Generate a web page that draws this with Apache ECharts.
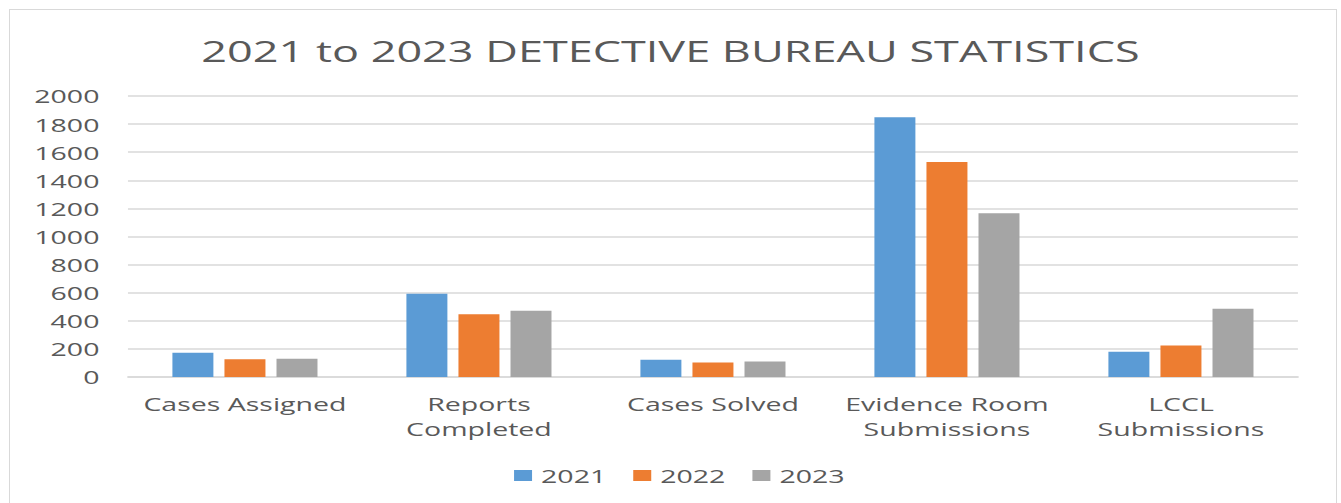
<!DOCTYPE html>
<html>
<head>
<meta charset="utf-8">
<script src="https://cdn.jsdelivr.net/npm/echarts@6/dist/echarts.min.js"></script>
<style>
  html, body { margin: 0; padding: 0; background: #ffffff; overflow: hidden; }
  #frame { position: absolute; left: 9px; top: 9px; width: 1328px; height: 600px; border: 1px solid #d9d9d9; box-sizing: border-box; }
  #chart { position: absolute; left: 0; top: 0; width: 894px; height: 503px; transform: scaleX(1.5); transform-origin: 0 0; }
</style>
</head>
<body>
<div id="frame"></div>
<div id="chart"></div>
<script>
const titleText = '2021 to 2023 DETECTIVE BUREAU STATISTICS';
const categories = ['Cases Assigned', 'Reports\nCompleted', 'Cases Solved', 'Evidence Room\nSubmissions', 'LCCL\nSubmissions'];
const seriesNames = ['2021', '2022', '2023'];
const values2021 = [173, 593, 123, 1848, 180];
const values2022 = [126, 446, 104, 1530, 225];
const values2023 = [130, 472, 111, 1165, 486];
const colors = ['#5B9BD5', '#ED7D31', '#A5A5A5'];

const FONT = '"Open Sans", sans-serif';
const TXT = '#595959';

const chart = echarts.init(document.getElementById('chart'), null, { renderer: 'svg' });
const data = [values2021, values2022, values2023];

chart.setOption({
  animation: false,
  backgroundColor: 'transparent',
  color: colors,
  title: {
    text: titleText,
    left: 'center',
    top: 30,
    textStyle: { fontFamily: FONT, fontSize: 30, fontWeight: 'normal', color: TXT }
  },
  legend: {
    data: seriesNames,
    left: 337.7,
    top: 461,
    itemWidth: 12,
    itemHeight: 11,
    itemGap: 18,
    icon: 'rect',
    textStyle: { fontFamily: FONT, fontSize: 19, color: TXT, padding: [0, 0, 0, 1] }
  },
  grid: { left: 85.3, right: 28.7, top: 96, bottom: 126, containLabel: false },
  xAxis: {
    type: 'category',
    data: categories,
    axisTick: { show: false },
    axisLine: { lineStyle: { color: '#d9d9d9', width: 1.5 } },
    axisLabel: { fontFamily: FONT, fontSize: 19, color: TXT, margin: 14, lineHeight: 25, interval: 0 }
  },
  yAxis: {
    type: 'value',
    min: 0,
    max: 2000,
    interval: 200,
    axisLine: { show: false },
    axisTick: { show: false },
    splitLine: { lineStyle: { color: '#d9d9d9', width: 1.5 } },
    axisLabel: { fontFamily: FONT, fontSize: 19, color: TXT, margin: 19, formatter: v => String(v) }
  },
  series: seriesNames.map((name, i) => ({
    name: name,
    type: 'bar',
    data: data[i],
    barGap: '27%',
    barCategoryGap: '38%',
    itemStyle: { color: colors[i] }
  }))
});
</script>
</body>
</html>
